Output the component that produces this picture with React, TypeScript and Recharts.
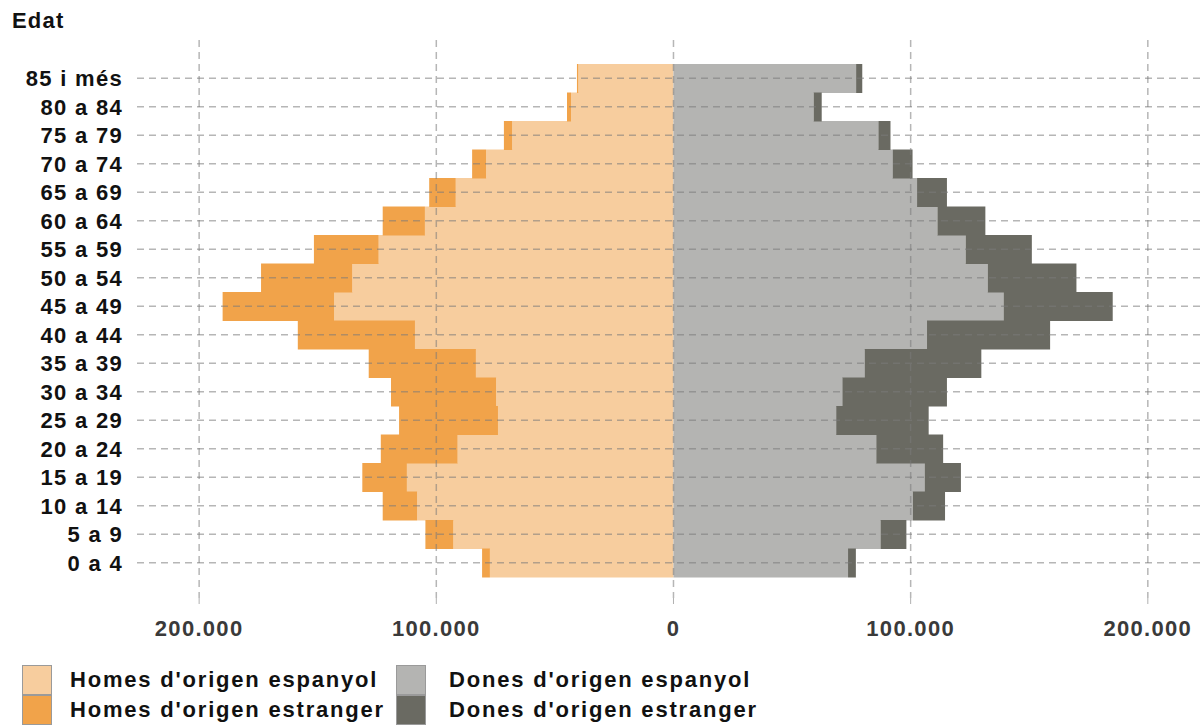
import {
  BarChart,
  Bar,
  XAxis,
  YAxis,
  CartesianGrid,
} from 'recharts'

const ages = [
  '0 a 4', '5 a 9', '10 a 14', '15 a 19', '20 a 24', '25 a 29',
  '30 a 34', '35 a 39', '40 a 44', '45 a 49', '50 a 54', '55 a 59',
  '60 a 64', '65 a 69', '70 a 74', '75 a 79', '80 a 84', '85 i més',
]

// men, shown on the left side
const menSpanish = [
  77400, 92800, 108100, 112400, 91000, 74000, 74800, 83300, 109000,
  143100, 135400, 124300, 104800, 91800, 79000, 68000, 43200, 40100,
]
const menForeign = [
  3300, 11800, 14500, 18800, 32400, 41700, 44300, 45200, 49400,
  47000, 38500, 27300, 17800, 11200, 5900, 3500, 1700, 600,
]

// women, right side
const womenSpanish = [
  73600, 87300, 100900, 105900, 85500, 68600, 71200, 80600, 106900,
  139200, 132500, 123200, 111300, 102700, 92400, 86400, 59100, 77000,
]
const womenForeign = [
  3300, 10900, 13600, 15300, 28200, 39000, 44100, 49200, 51900,
  46000, 37400, 27900, 20200, 12600, 8400, 5100, 3400, 2600,
]

const xTicks = [-200000, -100000, 0, 100000, 200000]

const series = [
  { key: 'homesEsp', label: "Homes d'origen espanyol", color: '#f7cd9e' },
  { key: 'homesEst', label: "Homes d'origen estranger", color: '#f1a34a' },
  { key: 'donesEsp', label: "Dones d'origen espanyol", color: '#b4b4b2' },
  { key: 'donesEst', label: "Dones d'origen estranger", color: '#6a6a62' },
]

const data = ages.map((age, i) => ({
  age,
  homesEsp: -menSpanish[i],
  homesEst: -menForeign[i],
  donesEsp: womenSpanish[i],
  donesEst: womenForeign[i],
}))

const fmt = (v: number) =>
  String(Math.abs(v)).replace(/\B(?=(\d{3})+(?!\d))/g, '.')

const font = "'Liberation Sans', Arial, Helvetica, sans-serif"

const chartProps = {
  width: 1200,
  height: 648,
  data,
  layout: 'vertical' as const,
  stackOffset: 'sign' as const,
  barCategoryGap: 0,
  margin: { top: 40, right: 0, bottom: 0, left: 0 },
}

const tickText = { fontSize: 22, fontWeight: 700, letterSpacing: 1.3 }

// both charts share the same axes so the grid overlay lines up with the bars
function Axes({ showText }: { showText: boolean }) {
  return [
    <XAxis
      key="x"
      type="number"
      domain={[-226200, 222000]}
      allowDataOverflow
      ticks={xTicks}
      tickFormatter={fmt}
      axisLine={false}
      tickLine={showText ? { stroke: '#b0b0b0' } : false}
      tickSize={6}
      tickMargin={16}
      height={50}
      tick={{ ...tickText, fill: showText ? '#3a3a3a' : 'transparent' }}
    />,
    <YAxis
      key="y"
      type="category"
      dataKey="age"
      reversed
      interval={0}
      width={137}
      axisLine={false}
      tickLine={false}
      tickSize={0}
      tickMargin={14}
      padding={{ top: 24, bottom: 21 }}
      tick={{ ...tickText, fill: showText ? '#111' : 'transparent' }}
    />,
  ]
}

function LegendKey({ color }: { color: string }) {
  return (
    <div
      style={{
        width: 28,
        height: 28,
        background: color,
        border: '1px solid #9a9a9a',
      }}
    />
  )
}

export default function App() {
  const cols = [
    { left: 22, gap: 18, items: [series[0], series[1]] },
    { left: 396, gap: 23, items: [series[2], series[3]] },
  ]

  return (
    <div
      style={{
        position: 'absolute',
        left: 0,
        top: 0,
        width: 1200,
        height: 728,
        background: '#fff',
        fontFamily: font,
        overflow: 'hidden',
      }}
    >
      <div
        style={{
          position: 'absolute',
          left: 12,
          top: 10,
          fontSize: 22,
          lineHeight: '22px',
          fontWeight: 700,
          letterSpacing: 1.2,
          color: '#111',
        }}
      >
        Edat
      </div>

      <div style={{ position: 'absolute', left: 0, top: 0 }}>
        <BarChart {...chartProps}>
          {Axes({ showText: true })}
          {series.map((s) => (
            <Bar
              key={s.key}
              dataKey={s.key}
              name={s.label}
              stackId="pop"
              fill={s.color}
              isAnimationActive={false}
            />
          ))}
        </BarChart>
      </div>

      {/* grid drawn above the bars, as in the original */}
      <div style={{ position: 'absolute', left: 0, top: 0, pointerEvents: 'none' }}>
        <BarChart {...chartProps}>
          {Axes({ showText: false })}
          <CartesianGrid
            syncWithTicks
            stroke="#7a7a7a"
            strokeOpacity={0.55}
            strokeWidth={1.5}
            strokeDasharray="7 5"
          />
        </BarChart>
      </div>

      {cols.map((col, ci) => (
        <div
          key={ci}
          style={{ position: 'absolute', left: col.left, top: 665 }}
        >
          {col.items.map((s) => (
            <div
              key={s.key}
              style={{ display: 'flex', alignItems: 'center', height: 30 }}
            >
              <LegendKey color={s.color} />
              <span
                style={{
                  marginLeft: col.gap,
                  fontSize: 22,
                  fontWeight: 700,
                  letterSpacing: 1.8,
                  color: '#111',
                }}
              >
                {s.label}
              </span>
            </div>
          ))}
        </div>
      ))}
    </div>
  )
}
